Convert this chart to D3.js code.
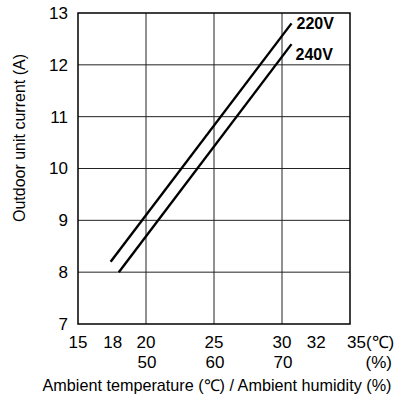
<!DOCTYPE html>
<html><head><meta charset="utf-8">
<script src="https://cdn.jsdelivr.net/npm/d3@7"></script>
<style>body{margin:0;background:#fff}svg{display:block}text{font-family:"Liberation Sans",Arial,sans-serif;fill:#000}</style>
</head><body>
<script>
const tempTicks = [15, 18, 20, 25, 30, 32, 35];
const humidTicks = [20, 25, 30];
const humidLabels = ["50", "60", "70"];
const currentTicks = [7, 8, 9, 10, 11, 12, 13];
const gridX = [20, 25, 30];
const series220 = [[17.4, 8.2], [30.7, 12.8]];
const series240 = [[18.0, 8.0], [30.7, 12.4]];
const seriesNames = ["220V", "240V"];

const W = 403, H = 399;
const m = {left: 78, right: 53, top: 13, bottom: 75};
const svg = d3.select("body").append("svg").attr("width", W).attr("height", H);
const x = d3.scaleLinear().domain([15, 35]).range([m.left, W - m.right]);
const y = d3.scaleLinear().domain([7, 13]).range([H - m.bottom, m.top]);

const g = svg.append("g");
// grid
g.selectAll(".gx").data(gridX).join("line")
  .attr("x1", d => x(d)).attr("x2", d => x(d)).attr("y1", y(7)).attr("y2", y(13))
  .attr("stroke", "#222").attr("stroke-width", 1);
g.selectAll(".gy").data(currentTicks.slice(1, -1)).join("line")
  .attr("y1", d => y(d)).attr("y2", d => y(d)).attr("x1", x(15)).attr("x2", x(35))
  .attr("stroke", "#222").attr("stroke-width", 1);
g.append("rect").attr("x", x(15)).attr("y", y(13)).attr("width", x(35) - x(15)).attr("height", y(7) - y(13))
  .attr("fill", "none").attr("stroke", "#000").attr("stroke-width", 1.5);

// y axis labels
const yAxis = d3.axisLeft(y).tickValues(currentTicks).tickSize(0).tickPadding(10).tickFormat(d3.format("d"));
const ya = svg.append("g").attr("transform", `translate(${x(15)},0)`).call(yAxis);
ya.select(".domain").remove();
ya.selectAll("text").attr("font-size", 17).attr("font-family", "Liberation Sans, Arial, sans-serif").attr("fill", "#000");

// x axis labels (temperature)
const nudge = {18: -6, 32: 7};
const xa = svg.append("g");
xa.selectAll("text").data(tempTicks).join("text")
  .attr("x", d => d === 35 ? x(d) - 3 : x(d) + (nudge[d] || 0))
  .attr("y", 348)
  .attr("text-anchor", d => d === 35 ? "start" : "middle")
  .attr("font-size", 17)
  .text(d => d === 35 ? "35(℃)" : d);
xa.selectAll(".h").data(humidTicks).join("text").attr("class", "h")
  .attr("x", d => x(d) + 1).attr("y", 368).attr("text-anchor", "middle").attr("font-size", 17)
  .text((d, i) => humidLabels[i]);
svg.append("text").attr("x", 392).attr("y", 368).attr("text-anchor", "end").attr("font-size", 17).text("(%)");

// axis titles
svg.append("text").attr("x", 217).attr("y", 391).attr("text-anchor", "middle").attr("font-size", 16.2)
  .text("Ambient temperature (℃) / Ambient humidity (%)");
svg.append("text").attr("transform", "translate(25,138) rotate(-90)").attr("text-anchor", "middle").attr("font-size", 16)
  .text("Outdoor unit current (A)");

// lines
const line = d3.line().x(d => x(d[0])).y(d => y(d[1]));
const labelOffsets = [[5, 6], [4, 16]];
[series220, series240].forEach((s, i) => {
  svg.append("path").datum(s).attr("d", line).attr("fill", "none").attr("stroke", "#000").attr("stroke-width", 2.4);
  const last = s[s.length - 1];
  svg.append("text").attr("x", x(last[0]) + labelOffsets[i][0]).attr("y", y(last[1]) + labelOffsets[i][1])
    .attr("font-size", 16).attr("font-weight", "bold").text(seriesNames[i]);
});
</script>
</body></html>
